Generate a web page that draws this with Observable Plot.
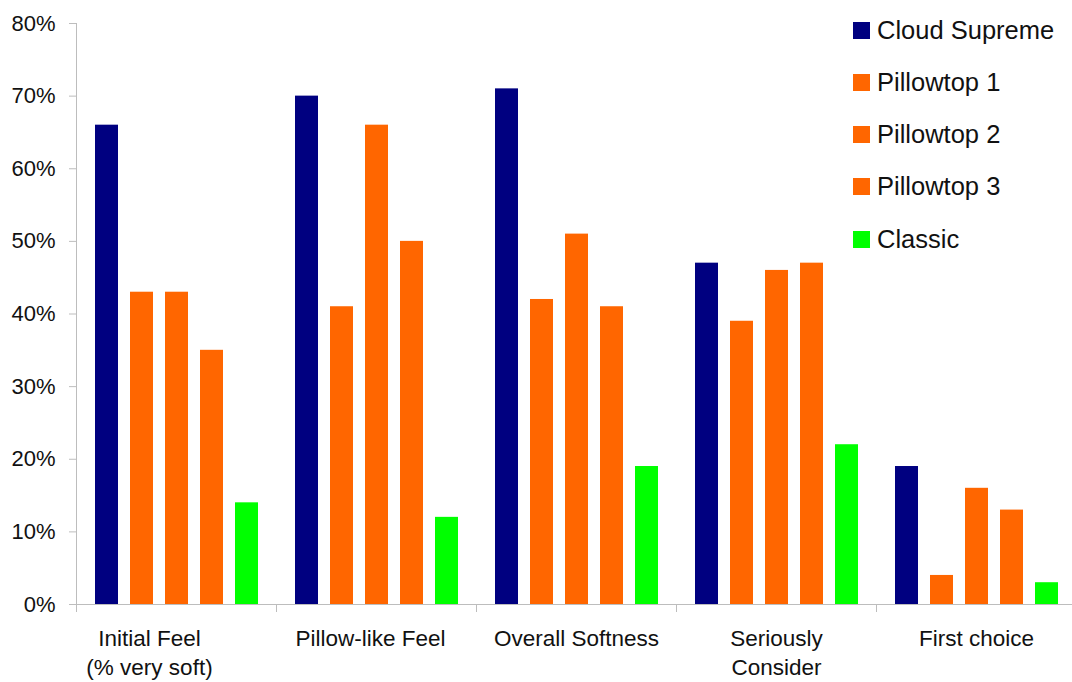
<!DOCTYPE html>
<html><head><meta charset="utf-8">
<script src="https://cdn.jsdelivr.net/npm/d3@7"></script>
<script src="https://cdn.jsdelivr.net/npm/@observablehq/plot@0.6"></script>
<style>
html,body{margin:0;padding:0;background:#fff;overflow:hidden}
#wrap{position:relative;width:1072px;height:682px;font-family:"Liberation Sans",Arial,sans-serif}
#chart svg{display:block;overflow:visible}
#legend{position:absolute;left:853px;top:0}
.item{position:absolute;left:0;height:30px;display:flex;align-items:center;white-space:nowrap;font-size:25.5px;color:#111}
.sw{width:17px;height:17px;margin-right:7px;flex:none}
</style></head><body><div id="wrap"><div id="chart"></div><div id="legend"></div></div>
<script>
const categories = ["Initial Feel", "Pillow-like Feel", "Overall Softness", "Seriously Consider", "First choice"];
const categoryLabels = ["Initial Feel\n(% very soft)", "Pillow-like Feel", "Overall Softness", "Seriously\nConsider", "First choice"];
const series = ["Cloud Supreme", "Pillowtop 1", "Pillowtop 2", "Pillowtop 3", "Classic"];
const colors = ["#000080", "#FF6600", "#FF6600", "#FF6600", "#00FF00"];
const cloudSupreme = [0.66, 0.70, 0.71, 0.47, 0.19];
const pillowtop1 = [0.43, 0.41, 0.42, 0.39, 0.04];
const pillowtop2 = [0.43, 0.66, 0.51, 0.46, 0.16];
const pillowtop3 = [0.35, 0.50, 0.41, 0.47, 0.13];
const classic = [0.14, 0.12, 0.19, 0.22, 0.03];
const yTicks = [0, 0.1, 0.2, 0.3, 0.4, 0.5, 0.6, 0.7, 0.8];

const seriesValues = [cloudSupreme, pillowtop1, pillowtop2, pillowtop3, classic];
const rows = [];
categories.forEach((c, ci) => {
  series.forEach((s, si) => rows.push({category: c, series: s, value: seriesValues[si][ci]}));
});

const grey = "#bdbdbd";
const ink = "#111";
const labelOpts = {
  fx: i => categories[i], text: i => categoryLabels[i],
  frameAnchor: "bottom", lineAnchor: "top", dy: 22, lineHeight: 1.25,
  fontSize: 22.5, fill: ink
};

const chart = Plot.plot({
  width: 1072, height: 682,
  marginTop: 23, marginBottom: 78, marginLeft: 76, marginRight: 0,
  style: {fontFamily: "'Liberation Sans', Arial, sans-serif", fontSize: "22px", color: ink, background: "#fff"},
  fx: {domain: categories, paddingInner: 0, paddingOuter: -0.0162, align: 0, axis: null},
  x: {domain: series, paddingInner: 0.344, paddingOuter: 0.472, align: 0.5, axis: null},
  y: {domain: [0, 0.8], axis: null},
  color: {domain: series, range: colors},
  marks: [
    Plot.frame({anchor: "left", facetAnchor: "left", stroke: grey, insetBottom: -7}),
    Plot.frame({anchor: "left", stroke: grey, insetTop: 581, insetBottom: -7}),
    Plot.ruleY([0], {stroke: grey}),
    Plot.barY(rows, {fx: "category", x: "series", y: "value", fill: "series"}),
    Plot.axisY({ticks: yTicks, tickFormat: d3.format(".0%"), tickSize: 7, tickPadding: 14, stroke: grey, fill: ink, fontSize: 22, label: null}),
    Plot.text([0], {...labelOpts, dx: -27}),
    Plot.text([1], {...labelOpts, dx: -6}),
    Plot.text([2, 3, 4], labelOpts)
  ]
});
document.getElementById("chart").appendChild(chart);

const legend = document.getElementById("legend");
const rowCenters = [30, 82, 134, 186, 239];
series.forEach((s, i) => {
  const item = document.createElement("div");
  item.className = "item";
  item.style.top = (rowCenters[i] - 15) + "px";
  const sw = document.createElement("span");
  sw.className = "sw";
  sw.style.background = colors[i];
  const t = document.createElement("span");
  t.textContent = s;
  item.appendChild(sw);
  item.appendChild(t);
  legend.appendChild(item);
});
</script></body></html>
